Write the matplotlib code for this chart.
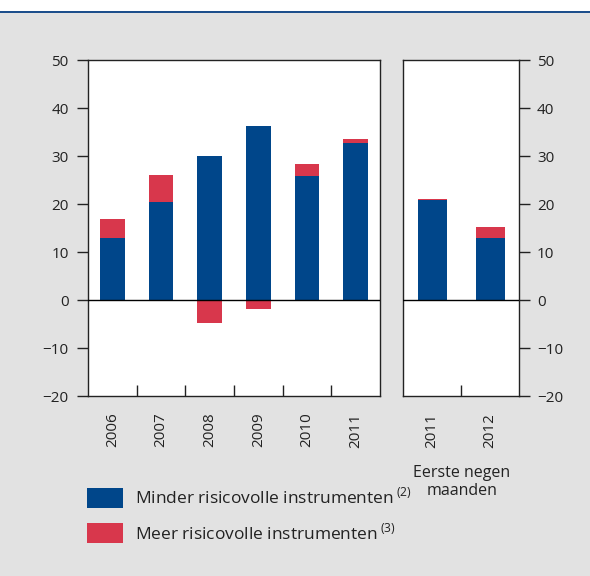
import matplotlib.pyplot as plt
from matplotlib.patches import Rectangle

plt.rcParams['font.family'] = ['Open Sans', 'DejaVu Sans']
plt.rcParams['mathtext.fontset'] = 'custom'
plt.rcParams['mathtext.rm'] = 'Open Sans'

# data
years = ['2006', '2007', '2008', '2009', '2010', '2011']
low_risk = [12.9, 20.4, 30.0, 36.2, 25.9, 32.7]
high_risk = [4.0, 5.6, -4.7, -1.8, 2.4, 0.8]

months_years = ['2011', '2012']
months_low = [20.8, 12.9]
months_high = [0.2, 2.3]

blue = '#00468a'
red = '#d8374c'
bg = '#e2e2e2'
ink = '#222222'

fig = plt.figure(figsize=(5.9, 5.76), dpi=100, facecolor=bg)
# white header strip with blue rule
fig.patches.append(Rectangle((0, 1 - 11 / 576), 1, 11 / 576, transform=fig.transFigure,
                             facecolor='white', edgecolor='none', zorder=0))
fig.patches.append(Rectangle((0, 1 - 13 / 576), 1, 2 / 576, transform=fig.transFigure,
                             facecolor='#1d4f8c', edgecolor='none', zorder=0))

ax1 = fig.add_axes([88 / 590, 1 - 396 / 576, 292 / 590, 336 / 576])
ax2 = fig.add_axes([403 / 590, 1 - 396 / 576, 116 / 590, 336 / 576])


def bottoms(base, extra):
    return [b if e >= 0 else 0 for b, e in zip(base, extra)]


def style(ax, n):
    ax.set_facecolor('white')
    ax.set_ylim(-20, 50)
    ax.set_xlim(-0.5, n - 0.5)
    ax.set_yticks(range(-20, 51, 10))
    ax.set_xticks(range(n))
    ax.set_xticks([i + 0.5 for i in range(n - 1)], minor=True)
    ax.tick_params(axis='x', which='major', length=0, pad=12, labelsize=11,
                   labelrotation=90, colors=ink)
    ax.tick_params(axis='x', which='minor', direction='in', length=8, width=1, color=ink)
    ax.tick_params(axis='y', length=8, width=1, pad=6, labelsize=11, colors=ink)
    ax.axhline(0, color='black', lw=1, zorder=3)
    for s in ax.spines.values():
        s.set_color(ink)
        s.set_linewidth(1)


ax1.bar(range(len(years)), low_risk, width=0.51, color=blue, zorder=2,
        label='Minder risicovolle instrumenten$\\,^{\\rm (2)}$')
ax1.bar(range(len(years)), high_risk, width=0.51, bottom=bottoms(low_risk, high_risk),
        color=red, zorder=2, label='Meer risicovolle instrumenten$\\,^{\\rm (3)}$')
style(ax1, len(years))
ax1.set_xticklabels(years)

ax2.bar(range(len(months_years)), months_low, width=0.5, color=blue, zorder=2)
ax2.bar(range(len(months_years)), months_high, width=0.5,
        bottom=bottoms(months_low, months_high), color=red, zorder=2)
style(ax2, len(months_years))
ax2.set_xticklabels(months_years)
ax2.yaxis.tick_right()
ax2.tick_params(axis='y', pad=5)

fig.text(462 / 590, 1 - 482 / 576, 'Eerste negen\nmaanden', ha='center', va='center',
         fontsize=11.5, color=ink, linespacing=1.15)

fig.legend(loc='upper left', bbox_to_anchor=(87 / 590, 1 - 487 / 576), frameon=False,
           fontsize=12.5, handlelength=2.05, handleheight=1.4, handletextpad=0.7,
           labelspacing=0.85, borderpad=0, borderaxespad=0, labelcolor=ink)

fig.savefig('out.png', dpi=100, facecolor=bg)
